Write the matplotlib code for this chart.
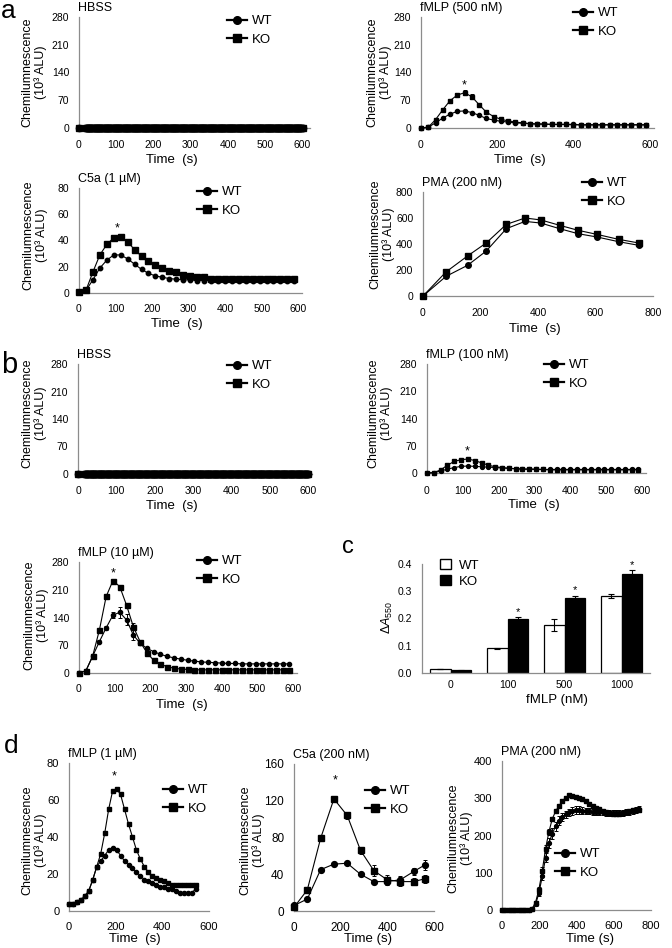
import matplotlib.pyplot as plt
from matplotlib.lines import Line2D
from matplotlib.patches import Patch

plt.rcParams['font.family'] = ['Liberation Sans', 'DejaVu Sans']
plt.rcParams['mathtext.fontset'] = 'custom'
plt.rcParams['mathtext.rm'] = 'Liberation Sans'
plt.rcParams['mathtext.it'] = 'Liberation Sans:italic'

W, H = 672, 948

# ---- data ----
hbss_t = [0] + list(range(18, 601, 3))
hbss_y = [0] * len(hbss_t)

t19 = [0, 19, 38, 57, 76, 95, 114, 133, 152, 171, 190, 209, 228, 247, 266, 285,
       304, 323, 342, 361, 380, 399, 418, 437, 456, 475, 494, 513, 532, 551, 570, 589]

# a, fMLP 500 nM
a2_wt = [0, 2, 13, 25, 35, 42, 43, 39, 32, 24, 20, 17, 15, 13, 12, 11,
         10, 10, 9, 9, 9, 9, 8, 8, 8, 8, 8, 8, 8, 8, 8, 8]
a2_ko = [0, 2, 21, 46, 69, 83, 89, 79, 59, 40, 29, 22, 18, 15, 13, 11,
         10, 10, 9, 9, 9, 8, 8, 8, 8, 8, 8, 8, 8, 8, 8, 8]
a2_ko_err = [0, 0, 2, 4, 5, 6, 7, 6, 4, 3, 2, 1, 1, 1, 1, 1,
             0, 0, 0, 0, 0, 0, 0, 0, 0, 0, 0, 0, 0, 0, 0, 0]

# a, C5a 1 uM
a3_wt = [1, 2, 10, 19, 25, 29, 29, 26, 22, 18, 15, 13, 12, 11, 10.5, 10,
         10, 9.5, 9.5, 9.5, 9.5, 9.5, 9.5, 9.5, 9.5, 9.5, 9.5, 9.5, 9.5, 9.5, 9.5, 9.5]
a3_ko = [1, 2, 16, 29, 37, 42, 43, 39, 33, 28, 24, 21, 19, 17, 16, 14,
         13, 12, 12, 11, 11, 11, 11, 11, 11, 11, 11, 11, 11, 11, 11, 11]

# a, PMA 200 nM
a4_t = [0, 80, 155, 220, 290, 355, 410, 475, 540, 605, 680, 750]
a4_wt = [0, 151, 236, 346, 518, 574, 561, 518, 479, 454, 418, 390]
a4_ko = [0, 185, 308, 408, 551, 600, 585, 544, 505, 474, 436, 408]

# b, fMLP 100 nM
b2_wt = [0, 1, 5, 10, 14, 17, 18, 17, 16, 15, 14, 13, 12, 11, 10, 10,
         10, 9, 9, 9, 9, 9, 9, 9, 9, 9, 9, 9, 9, 9, 9, 9]
b2_ko = [0, 1, 8, 20, 30, 34, 36, 32, 26, 20, 16, 14, 12, 11, 10, 10,
         9, 9, 8, 8, 8, 8, 8, 8, 8, 8, 8, 8, 8, 8, 8, 8]

# b, fMLP 10 uM
b3_wt = [1, 5, 42, 79, 114, 146, 153, 134, 96, 75, 62, 54, 47, 42, 38, 35,
         32, 30, 28, 27, 26, 25, 24, 24, 23, 23, 23, 23, 23, 23, 23, 23]
b3_ko = [1, 5, 42, 108, 193, 233, 218, 171, 117, 79, 51, 32, 22, 16, 12, 10,
         9, 8, 8, 8, 8, 8, 8, 8, 8, 8, 8, 8, 8, 8, 8, 8]
b3_wt_err = [0, 0, 2, 3, 5, 8, 14, 14, 12, 5, 3, 2, 1, 1, 1, 1,
             1, 1, 1, 1, 1, 1, 1, 1, 1, 1, 1, 1, 1, 1, 1, 1]
b3_ko_err = [0, 0, 2, 3, 4, 5, 4, 4, 8, 4, 2, 1, 1, 1, 1, 1,
             1, 1, 1, 1, 1, 1, 1, 1, 1, 1, 1, 1, 1, 1, 1, 1]

# c, bars
c_dose = ['0', '100', '500', '1000']
c_wt = [0.015, 0.090, 0.177, 0.283]
c_ko = [0.010, 0.200, 0.275, 0.365]
c_wt_err = [0.001, 0.003, 0.022, 0.008]
c_ko_err = [0.002, 0.004, 0.008, 0.012]

# d, fMLP 1 uM
t17 = [0, 17, 34, 51, 68, 85, 102, 119, 136, 153, 170, 187, 204, 221, 238, 255, 272,
       289, 306, 323, 340, 357, 374, 391, 408, 425, 442, 459, 476, 493, 510, 527, 544]
d1_wt = [4, 4, 5, 6, 8, 11, 17, 24, 27, 30, 33, 34, 33, 30, 27, 25, 23,
         21, 19, 17, 16, 15, 14, 13, 13, 12, 12, 11, 10, 10, 10, 10, 12]
d1_ko = [4, 4, 5, 6, 8, 11, 17, 24, 31, 42, 55, 65, 66, 63, 55, 47, 40,
         33, 28, 24, 21, 19, 18, 17, 16, 15, 14, 14, 14, 14, 14, 14, 14]

# d, C5a 200 nM
d2_t = [0, 57, 114, 171, 228, 285, 342, 399, 456, 513, 560]
d2_wt = [6, 13, 45, 51, 52, 40, 32, 32, 34, 43, 50]
d2_ko = [4, 23, 79, 122, 104, 66, 44, 34, 32, 32, 35]
d2_wt_err = [1, 1, 2, 2, 2, 2, 2, 4, 4, 4, 5]
d2_ko_err = [1, 2, 3, 3, 4, 4, 6, 5, 5, 4, 4]

# d, PMA 200 nM
t18 = [0, 18, 36, 54, 72, 90, 108, 126, 144, 162, 180, 198, 216, 234, 252, 270, 288,
       306, 324, 342, 360, 378, 396, 414, 432, 450, 468, 486, 504, 522, 540, 558, 576,
       594, 612, 630, 648, 666, 684, 702, 720, 738]
d3_wt = [0, 0, 0, 0, 0, 0, 0, 0, 0, 2, 15, 45, 90, 140, 180, 205, 225,
         240, 250, 257, 262, 266, 268, 268, 267, 266, 265, 264, 263, 262, 262, 261, 261,
         261, 260, 260, 260, 262, 264, 266, 268, 270]
d3_ko = [0, 0, 0, 0, 0, 0, 0, 0, 0, 4, 20, 55, 105, 165, 210, 245, 265,
         280, 292, 302, 308, 307, 304, 300, 297, 292, 285, 280, 274, 270, 265, 262, 260,
         258, 258, 258, 260, 262, 265, 268, 268, 268]
d3_wt_err = [0, 0, 0, 0, 0, 0, 0, 0, 0, 1, 4, 8, 10, 12, 14, 14, 12,
             12, 10, 10, 10, 10, 10, 10, 10, 8, 8, 8, 8, 8, 8, 8, 8,
             8, 8, 8, 8, 8, 8, 8, 8, 8]
d3_ko_err = [0, 0, 0, 0, 0, 0, 0, 0, 0, 1, 4, 8, 10, 10, 8, 6, 5,
             5, 5, 5, 5, 5, 5, 5, 5, 5, 5, 5, 5, 5, 5, 5, 5,
             5, 5, 5, 5, 5, 5, 5, 5, 5]

YLAB = 'Chemilumnescence\n(10³ ALU)'

fig = plt.figure(figsize=(W / 100, H / 100), dpi=100)


def make_ax(l, t, r, b):
    return fig.add_axes([l / W, 1 - b / H, (r - l) / W, (b - t) / H])


def style(ax, xlim, xticks, ylim, yticks, size=7.5, xpad=8):
    ax.set_xlim(*xlim)
    ax.set_ylim(*ylim)
    ax.set_xticks(xticks)
    ax.set_yticks(yticks)
    for s in ['top', 'right']:
        ax.spines[s].set_visible(False)
    for s in ['left', 'bottom']:
        ax.spines[s].set_color('#8c8c8c')
        ax.spines[s].set_linewidth(0.9)
    ax.tick_params(axis='x', length=0, labelsize=size, pad=xpad)
    ax.tick_params(axis='y', length=0, labelsize=size, pad=7)


def labels(ax, xl, xfx, xfy, yl, yfx, yfy, size=9):
    ax.set_xlabel(xl, fontsize=9.5, va='center')
    ax.xaxis.set_label_coords(xfx, xfy)
    ax.set_ylabel(yl, fontsize=size, va='center', linespacing=1.05)
    ax.yaxis.set_label_coords(yfx, yfy)


def title(ax, txt):
    ax.annotate(txt, xy=(0, 1), xycoords='axes fraction', xytext=(-1, 4),
                textcoords='offset points', ha='left', va='baseline', fontsize=9)


def curve(ax, t, y, marker, ms, err=None):
    if err is not None:
        ax.errorbar(t, y, yerr=err, fmt='none', ecolor='k', elinewidth=0.7,
                    capsize=1.5, capthick=0.7, zorder=2)
    ax.plot(t, y, color='k', lw=0.8, marker=marker, ms=ms, mec='k', mfc='k',
            clip_on=False, zorder=3)


def leg(ax, x, y):
    h = [Line2D([], [], color='k', lw=1.6, marker='o', ms=5.5),
         Line2D([], [], color='k', lw=1.6, marker='s', ms=5.5)]
    ax.legend(h, ['WT', 'KO'], loc='upper left', bbox_to_anchor=(x / W, 1 - (y - 8) / H),
              bbox_transform=fig.transFigure, frameon=False, fontsize=9.5,
              handlelength=1.5, handletextpad=0.4, labelspacing=0.5,
              borderpad=0, borderaxespad=0)


def star(ax, x, y):
    ax.text(x, y, '*', ha='center', va='center', fontsize=9)


# ---- panel a ----
ax = make_ax(79, 17, 310, 128)
curve(ax, hbss_t, hbss_y, 'o', 4.5)
curve(ax, hbss_t, hbss_y, 's', 4.5)
style(ax, (0, 620), range(0, 601, 100), (0, 280), range(0, 281, 70), xpad=9)
labels(ax, 'Time  (s)', 0.40, -0.29, YLAB, -0.195, 0.5)
title(ax, 'HBSS')
leg(ax, 227, 23)

ax = make_ax(421, 17, 654, 128)
curve(ax, t19, a2_wt, 'o', 3)
curve(ax, t19, a2_ko, 's', 3.4, a2_ko_err)
style(ax, (0, 610), range(0, 601, 200), (0, 280), range(0, 281, 70), xpad=9)
labels(ax, 'Time  (s)', 0.425, -0.29, YLAB, -0.18, 0.5)
title(ax, 'fMLP (500 nM)')
leg(ax, 573, 15)
star(ax, 113, 108)

ax = make_ax(79, 188, 302, 293)
curve(ax, t19, a3_wt, 'o', 3.2)
curve(ax, t19, a3_ko, 's', 4)
style(ax, (0, 610), range(0, 601, 100), (0, 80), range(0, 81, 20))
labels(ax, 'Time  (s)', 0.44, -0.3, YLAB, -0.197, 0.55)
title(ax, 'C5a (1 µM)')
leg(ax, 197, 194)
star(ax, 105, 49)

ax = make_ax(423, 192, 653, 296)
curve(ax, a4_t, a4_wt, 'o', 4)
curve(ax, a4_t, a4_ko, 's', 4.3)
style(ax, (0, 800), range(0, 801, 200), (0, 800), range(0, 801, 200), xpad=9)
labels(ax, 'Time  (s)', 0.487, -0.317, YLAB, -0.178, 0.59)
title(ax, 'PMA (200 nM)')
leg(ax, 582, 185)

# ---- panel b ----
ax = make_ax(78, 364, 312, 474)
curve(ax, hbss_t, hbss_y, 'o', 4.5)
curve(ax, hbss_t, hbss_y, 's', 4.5)
style(ax, (0, 610), range(0, 601, 100), (0, 280), range(0, 281, 70), xpad=9)
labels(ax, 'Time  (s)', 0.40, -0.29, YLAB, -0.188, 0.55)
title(ax, 'HBSS')
leg(ax, 227, 368)

ax = make_ax(427, 364, 646, 473)
curve(ax, t19, b2_wt, 'o', 2.8)
curve(ax, t19, b2_ko, 's', 3)
style(ax, (0, 610), range(0, 601, 100), (0, 280), range(0, 281, 70), xpad=9)
labels(ax, 'Time  (s)', 0.49, -0.295, YLAB, -0.215, 0.55)
title(ax, 'fMLP (100 nM)')
leg(ax, 544, 367)
star(ax, 113, 56)

ax = make_ax(79, 562, 297, 673)
curve(ax, t19, b3_wt, 'o', 3, b3_wt_err)
curve(ax, t19, b3_ko, 's', 3.6, b3_ko_err)
style(ax, (0, 610), range(0, 601, 100), (0, 280), range(0, 281, 70))
labels(ax, 'Time  (s)', 0.47, -0.285, YLAB, -0.197, 0.52)
title(ax, 'fMLP (10 µM)')
leg(ax, 197, 563)
star(ax, 95, 252)

# ---- panel c ----
ax = make_ax(422, 564, 650, 673)
xs = range(len(c_dose))
bw = 0.36
ax.bar([x - bw / 2 for x in xs], c_wt, bw, yerr=c_wt_err, color='white', edgecolor='k',
       linewidth=0.9, error_kw=dict(elinewidth=0.8, capsize=2, capthick=0.8))
ax.bar([x + bw / 2 for x in xs], c_ko, bw, yerr=c_ko_err, color='black', edgecolor='k',
       linewidth=0.9, error_kw=dict(elinewidth=0.8, capsize=2, capthick=0.8, ecolor='k'))
for i in range(1, len(c_dose)):
    ax.text(i + bw / 2, c_ko[i] + c_ko_err[i] + 0.02, '*', ha='center', va='center', fontsize=8)
style(ax, (-0.5, 3.5), list(xs), (0, 0.4), [0, 0.1, 0.2, 0.3, 0.4], xpad=5)
ax.set_xticklabels(c_dose)
ax.set_yticklabels(['0.0', '0.1', '0.2', '0.3', '0.4'])
labels(ax, 'fMLP (nM)', 0.59, -0.25, r'$\Delta A_{550}$', -0.15, 0.51)
ax.legend([Patch(facecolor='white', edgecolor='k'), Patch(facecolor='black', edgecolor='k')],
          ['WT', 'KO'], loc='upper left', bbox_to_anchor=(440 / W, 1 - 559 / H),
          bbox_transform=fig.transFigure, frameon=False, fontsize=9.5,
          handlelength=0.8, handleheight=0.8, handletextpad=0.6, labelspacing=0.25,
          borderpad=0, borderaxespad=0)

# ---- panel d ----
ax = make_ax(69, 763, 209, 911)
curve(ax, t17, d1_wt, 'o', 3)
curve(ax, t17, d1_ko, 's', 2.6)
style(ax, (0, 600), range(0, 601, 200), (0, 80), range(0, 81, 20), size=8)
labels(ax, 'Time  (s)', 0.47, -0.19, YLAB, -0.25, 0.48)
title(ax, 'fMLP (1 µM)')
leg(ax, 163, 792)
star(ax, 195, 73)

ax = make_ax(294, 764, 434, 911)
curve(ax, d2_t, d2_wt, 'o', 4.2, d2_wt_err)
curve(ax, d2_t, d2_ko, 's', 4.8, d2_ko_err)
style(ax, (0, 600), range(0, 601, 200), (0, 160), range(0, 161, 40), size=8.5)
labels(ax, 'Time (s)', 0.53, -0.19, YLAB, -0.30, 0.48)
title(ax, 'C5a (200 nM)')
leg(ax, 365, 793)
star(ax, 175, 142)

ax = make_ax(502, 761, 651, 910)
curve(ax, t18, d3_wt, 'o', 2.8, d3_wt_err)
curve(ax, t18, d3_ko, 's', 2.8, d3_ko_err)
style(ax, (0, 800), range(0, 801, 200), (0, 400), range(0, 401, 100), size=8)
labels(ax, 'Time (s)', 0.59, -0.195, YLAB, -0.28, 0.48)
title(ax, 'PMA (200 nM)')
leg(ax, 555, 856)

# panel letters
fig.text(1 / W, 1 - 18 / H, 'a', fontsize=19, va='baseline')
fig.text(1 / W, 1 - 373 / H, 'b', fontsize=21, va='baseline')
fig.text(342 / W, 1 - 553 / H, 'c', fontsize=17, va='baseline')
fig.text(4 / W, 1 - 753 / H, 'd', fontsize=19, va='baseline')

fig.savefig('out.png', dpi=100)
